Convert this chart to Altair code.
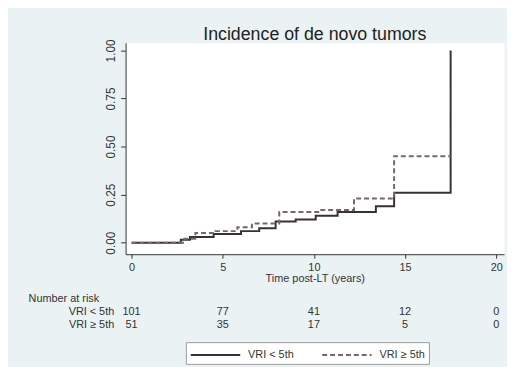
import altair as alt
import pandas as pd

# Cumulative incidence step points (years, proportion)
grp_a = "VRI < 5th"
grp_b = "VRI ≥ 5th"
t_a = [0, 2.7, 3.2, 4.5, 6.0, 7.0, 7.9, 9.0, 10.1, 11.3, 13.4, 14.4, 17.5]
v_a = [0, 0.015, 0.03, 0.045, 0.06, 0.075, 0.11, 0.12, 0.14, 0.16, 0.19, 0.26, 1.0]
t_b = [0, 2.9, 3.5, 4.6, 5.8, 6.6, 8.1, 10.3, 12.2, 14.4, 17.5]
v_b = [0, 0.02, 0.05, 0.06, 0.08, 0.10, 0.16, 0.17, 0.23, 0.45, 0.45]

# Number at risk table
risk_times = [0, 5, 10, 15, 20]
risk_a = [101, 77, 41, 12, 0]
risk_b = [51, 35, 17, 5, 0]

x_ticks = [0, 5, 10, 15, 20]
y_ticks = [0, 0.25, 0.5, 0.75, 1.0]

curves = pd.DataFrame(
    {"t": t_a + t_b, "v": v_a + v_b, "g": [grp_a] * len(t_a) + [grp_b] * len(t_b)}
)
risk = pd.DataFrame(
    {
        "t": risk_times * 2,
        "n": risk_a + risk_b,
        "g": [grp_a] * len(risk_a) + [grp_b] * len(risk_b),
    }
)

FONT = "Liberation Sans"
xdom = [-0.33, 20.43]
W = 383
TXT = "#333333"

leg = alt.Legend(title=None, orient="none", legendX=61, legendY=303,
                 direction="horizontal", symbolType="M-1,0L5.25,0",
                 symbolSize=256, symbolStrokeWidth=2,
                 labelFontSize=11, columnPadding=24, labelOffset=41,
                 fillColor="white", strokeColor="#999999", padding=4)

top = (
    alt.Chart(curves)
    .mark_line(interpolate="step-after", strokeWidth=2)
    .encode(
        x=alt.X(
            "t:Q",
            scale=alt.Scale(domain=xdom, nice=False, zero=False),
            axis=alt.Axis(values=x_ticks, title="Time post-LT (years)", grid=False,
                          format="d", labelFontSize=11, titleFontSize=11,
                          titleFontWeight="normal", titlePadding=1, tickSize=4,
                          labelPadding=3),
        ),
        y=alt.Y(
            "v:Q",
            scale=alt.Scale(domain=[-0.06, 1.04], nice=False, zero=False),
            axis=alt.Axis(values=y_ticks, format=".2f", title=None, grid=False,
                          labelAngle=270, labelAlign="center", labelBaseline="bottom",
                          labelFontSize=12, tickSize=5, labelPadding=3),
        ),
        color=alt.Color("g:N", scale=alt.Scale(domain=[grp_a, grp_b], range=["#333333", "#7a6666"]),
                        legend=leg),
        strokeDash=alt.StrokeDash("g:N", scale=alt.Scale(domain=[grp_a, grp_b], range=[[1, 0], [5, 3]]),
                                  legend=leg),
    )
    .properties(
        width=W,
        height=214,
        title=alt.TitleParams("Incidence of de novo tumors", fontSize=18, fontWeight="normal",
                              color="#222222", offset=-5),
        view=alt.ViewBackground(fill="white", stroke="transparent"),
    )
)

table = (
    alt.Chart(risk)
    .mark_text(fontSize=11, color=TXT, font=FONT)
    .encode(
        x=alt.X("t:Q", scale=alt.Scale(domain=xdom, nice=False, zero=False), axis=None),
        y=alt.Y("g:N", sort=[grp_a, grp_b],
                axis=alt.Axis(title=None, domain=False, ticks=False, labelPadding=12,
                              labelFontSize=11)),
        text="n:Q",
    )
    .properties(
        width=W,
        height=26,
        title=alt.TitleParams("Number at risk", anchor="start", dx=-40, fontSize=11,
                              fontWeight="normal", color=TXT, offset=2),
        view=alt.ViewBackground(fill="transparent", stroke="transparent"),
    )
)

chart = (
    alt.vconcat(top, table, spacing=7)
    .properties(padding={"left": 20, "top": 15, "right": 2, "bottom": 0})
    .configure(background="#eaf2f3", font=FONT)
    .configure_axis(labelFont=FONT, titleFont=FONT, domainColor=TXT, tickColor=TXT,
                    labelColor=TXT, titleColor=TXT)
    .configure_title(font=FONT)
    .configure_legend(labelFont=FONT, labelColor=TXT)
)

chart.save("out.html", embed_options={"renderer": "svg", "actions": False})
